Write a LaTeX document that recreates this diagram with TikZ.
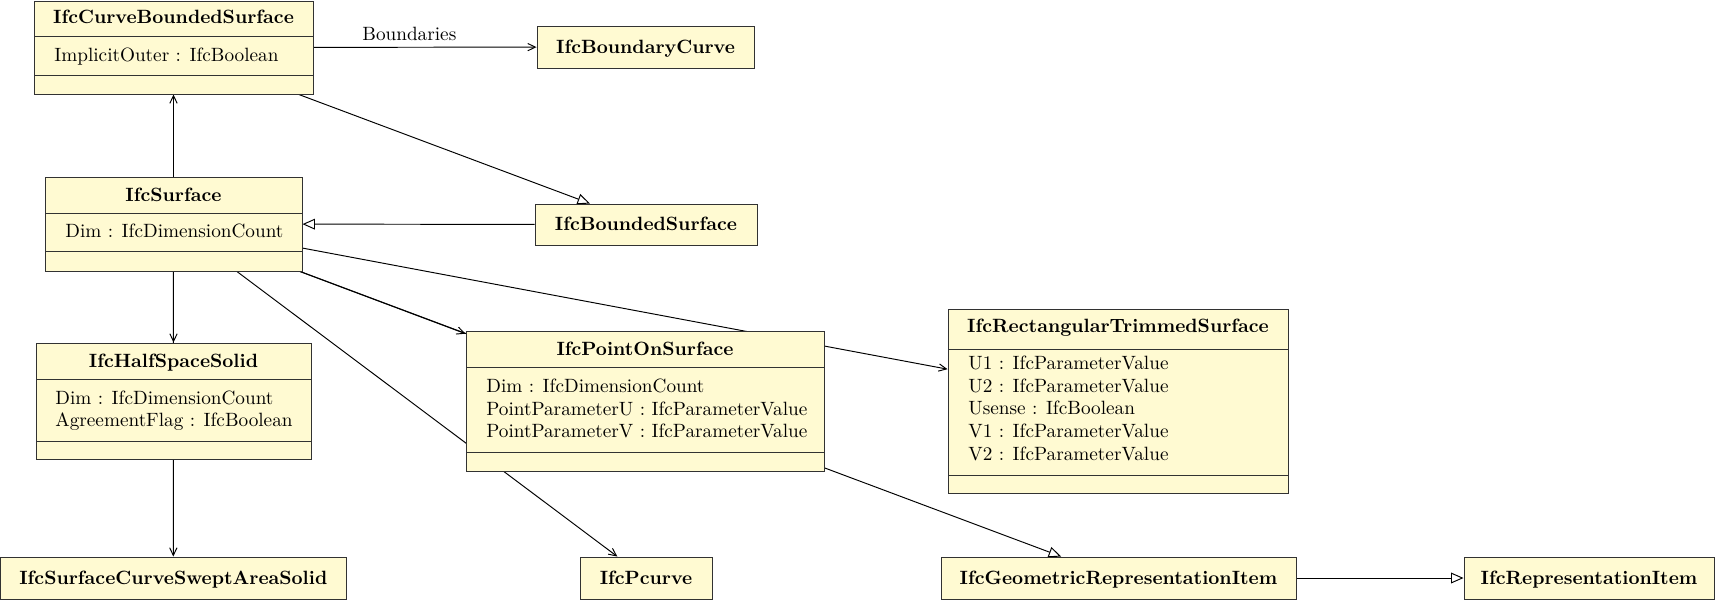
\documentclass[tikz,border=0pt]{standalone}
\usetikzlibrary{arrows.meta,fit}
\pgfdeclarelayer{bg}
\pgfsetlayers{bg,main}
\definecolor{classfill}{RGB}{255,250,210}
\definecolor{classdraw}{RGB}{50,50,50}
\tikzset{
  classbox/.style={draw=classdraw, fill=classfill, line width=0.5pt, inner sep=0pt},
  divline/.style={draw=classdraw, line width=0.5pt},
  titletext/.style={font=\bfseries, inner sep=0pt, text height=6.86pt, text depth=0pt},
  attrtext/.style={anchor=west, inner sep=0pt, text height=6.83pt, text depth=0pt},
  assoc/.style={draw, line width=0.5pt, -{Straight Barb[length=4pt,width=3.8pt]}},
  inherit/.style={draw, line width=0.5pt, -{Triangle[open,length=6.5pt,width=5.6pt,fill=white]}},
}
\begin{document}
\begin{tikzpicture}[x=0.52pt, y=-0.52pt]
\useasboundingbox (0,0) rectangle (1719,600);

% IfcCurveBoundedSurface
\node[classbox, fit={(34,1) (313,94)}] (cbs) {};
\draw[divline] (34,36) -- (313,36);
\draw[divline] (34,75) -- (313,75);
\node[titletext] (cbst) at (173.5,17) {IfcCurveBoundedSurface};
\node[attrtext] (cbsa) at (54,55) {ImplicitOuter : IfcBoolean};

% IfcBoundaryCurve
\node[classbox, fit={(537,26) (754,68)}] (bc) {};
\node[titletext] (bct) at (645.5,47) {IfcBoundaryCurve};

% IfcSurface
\node[classbox, fit={(45,177) (302,271)}] (surf) {};
\draw[divline] (45,213) -- (302,213);
\draw[divline] (45,251) -- (302,251);
\node[titletext] (surft) at (173.5,195) {IfcSurface};
\node[attrtext] (surfa) at (65,231) {Dim : IfcDimensionCount};

% IfcBoundedSurface
\node[classbox, fit={(535,204) (757,245)}] (bs) {};
\node[titletext] (bst) at (646,224) {IfcBoundedSurface};

% IfcHalfSpaceSolid
\node[classbox, fit={(36,343) (311,459)}] (hss) {};
\draw[divline] (36,379) -- (311,379);
\draw[divline] (36,441) -- (311,441);
\node[titletext] (hsst) at (173.5,361) {IfcHalfSpaceSolid};
\node[attrtext] (hssa) at (55,398) {Dim : IfcDimensionCount};
\node[attrtext] (hssb) at (55,420) {AgreementFlag : IfcBoolean};

% IfcPointOnSurface
\node[classbox, fit={(466,331) (824,471)}] (pos) {};
\draw[divline] (466,367) -- (824,367);
\draw[divline] (466,452) -- (824,452);
\node[titletext] (post) at (645,349) {IfcPointOnSurface};
\node[attrtext] (posa) at (486,386) {Dim : IfcDimensionCount};
\node[attrtext] (posb) at (486,409) {PointParameterU : IfcParameterValue};
\node[attrtext] (posc) at (486,431) {PointParameterV : IfcParameterValue};

% IfcRectangularTrimmedSurface
\node[classbox, fit={(948,309) (1288,493)}] (rts) {};
\draw[divline] (948,349) -- (1288,349);
\draw[divline] (948,475) -- (1288,475);
\node[titletext] (rtst) at (1118,326) {IfcRectangularTrimmedSurface};
\node[attrtext] (rtsa) at (968,363) {U1 : IfcParameterValue};
\node[attrtext] (rtsb) at (968,386) {U2 : IfcParameterValue};
\node[attrtext] (rtsc) at (968,408) {Usense : IfcBoolean};
\node[attrtext] (rtsd) at (968,431) {V1 : IfcParameterValue};
\node[attrtext] (rtse) at (968,454) {V2 : IfcParameterValue};

% bottom row
\node[classbox, fit={(0.6,557) (346,599)}] (scs) {};
\node[titletext] (scst) at (173.3,578) {IfcSurfaceCurveSweptAreaSolid};
\node[classbox, fit={(580,557) (712,599)}] (pc) {};
\node[titletext] (pct) at (646,578) {IfcPcurve};
\node[classbox, fit={(941,557) (1296,599)}] (gri) {};
\node[titletext] (grit) at (1118.5,578) {IfcGeometricRepresentationItem};
\node[classbox, fit={(1464,557) (1714,599)}] (ri) {};
\node[titletext] (rit) at (1589,578) {IfcRepresentationItem};

\begin{pgfonlayer}{bg}
\draw[assoc] (cbs) -- node[above, pos=0.43, inner sep=3pt] (lbl) {Boundaries} (bc);
\draw[assoc] (surf) -- (cbs);
\draw[inherit] (cbs) -- (bs);
\draw[inherit] (bs) -- (surf);
\draw[assoc] (surf) -- (hss);
\draw[assoc] (surf) -- (scs);
\draw[assoc] (surf) -- (pc);
\draw[assoc] (surf) -- (rts);
\draw[assoc] (surf) -- (pos);
\draw[inherit] (surf) -- (gri);
\draw[inherit] (gri) -- (ri);
\end{pgfonlayer}
\end{tikzpicture}
\end{document}
